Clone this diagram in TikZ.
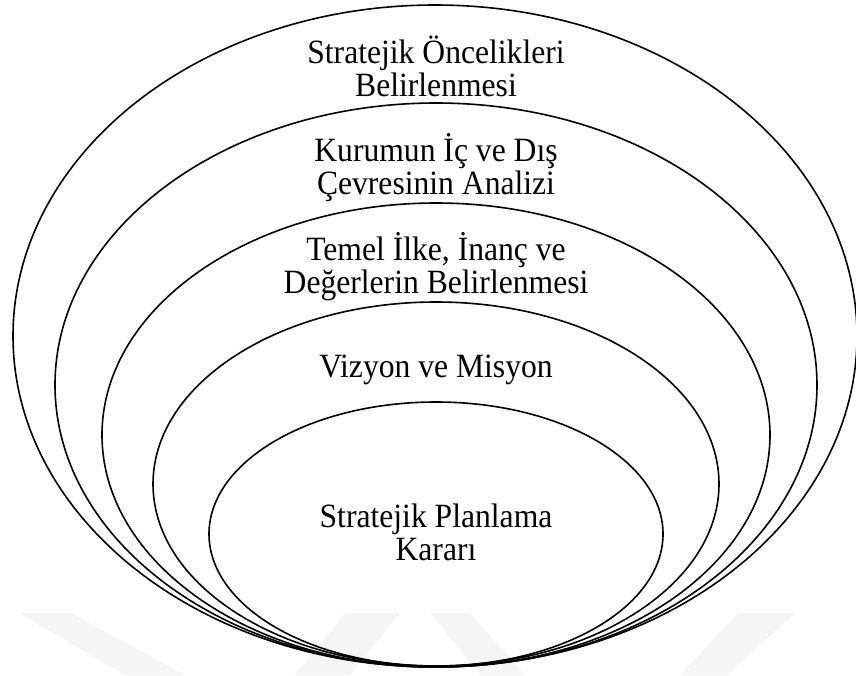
\documentclass[tikz,border=0pt]{standalone}
\usepackage{fontspec}
\setmainfont[FakeStretch=0.93]{Liberation Serif}
\usetikzlibrary{shapes.geometric}
\begin{document}
\begin{tikzpicture}[x=1pt,y=-1pt,
  ring/.style={draw=black,line width=1.6pt,ellipse,inner sep=0pt},
  label/.style={align=center,anchor=base,font=\fontsize{34}{33}\selectfont,inner sep=0pt},
  faint/.style={fill=black!4,draw=none}]
\useasboundingbox (0,0) rectangle (856,675);
% faint background bands near the bottom edge
\fill[faint] (19,613) -- (71,613) -- (185,675) -- (125,675) -- cycle;
\fill[faint] (738,613) -- (795,613) -- (727,675) -- (680,675) -- cycle;
\fill[faint] (295,675) -- (350,675) -- (400,613) -- (345,613) -- cycle;
\fill[faint] (481,675) -- (525,675) -- (470,613) -- (430,613) -- cycle;
% nested rings, all touching at the bottom
\node[ring,minimum width=844pt,minimum height=662pt] (r1) at (435,336) {};
\node[ring,minimum width=762pt,minimum height=564pt] (r2) at (436,385) {};
\node[ring,minimum width=668pt,minimum height=464pt] (r3) at (436,435) {};
\node[ring,minimum width=566pt,minimum height=364pt] (r4) at (436,484) {};
\node[ring,minimum width=454pt,minimum height=264pt] (r5) at (436,534) {};
% ring captions (base anchor sits on the last line)
\node[label] (t1) at (436,96) {Stratejik Öncelikleri\\Belirlenmesi};
\node[label] (t2) at (436,194) {Kurumun İç ve Dış\\Çevresinin Analizi};
\node[label] (t3) at (436,293) {Temel İlke, İnanç ve\\Değerlerin Belirlenmesi};
\node[label] (t4) at (436,377) {Vizyon ve Misyon};
\node[label] (t5) at (436,560) {Stratejik Planlama\\Kararı};
\end{tikzpicture}
\end{document}
